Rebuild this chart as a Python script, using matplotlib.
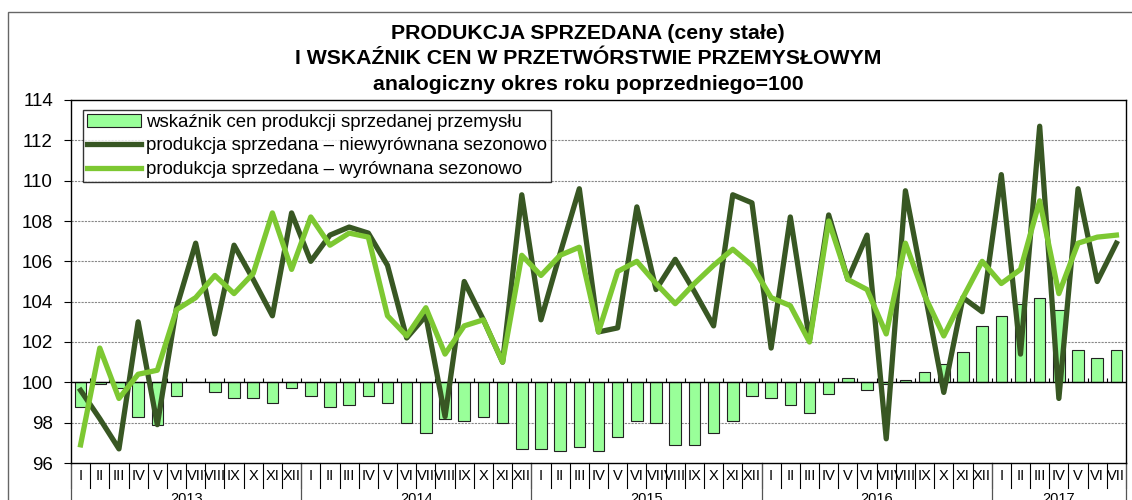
import numpy as np
import matplotlib
matplotlib.use('Agg')
import matplotlib.pyplot as plt
from matplotlib.patches import Rectangle

plt.rcParams['font.family'] = ['Liberation Sans', 'DejaVu Sans']

# ── Data (Jan 2013 – Jul 2017) ───────────────────────────────
months = ['I', 'II', 'III', 'IV', 'V', 'VI', 'VII', 'VIII', 'IX', 'X', 'XI', 'XII']
years  = ['2013', '2014', '2015', '2016', '2017']

price_index = [
    98.8, 99.9, 99.7, 98.3, 97.9, 99.3, 100.0, 99.5, 99.2, 99.2, 99.0, 99.7,   # 2013
    99.3, 98.8, 98.9, 99.3, 99.0, 98.0, 97.5, 98.2, 98.1, 98.3, 98.0, 96.7,    # 2014
    96.7, 96.6, 96.8, 96.6, 97.3, 98.1, 98.0, 96.9, 96.9, 97.5, 98.1, 99.3,    # 2015
    99.2, 98.9, 98.5, 99.4, 100.2, 99.6, 99.9, 100.1, 100.5, 100.9, 101.5, 102.8,  # 2016
    103.3, 103.9, 104.2, 103.6, 101.6, 101.2, 101.6,                           # 2017
]
prod_raw = [
    99.6, 98.2, 96.7, 103.0, 97.9, 103.7, 106.9, 102.4, 106.8, 105.1, 103.3, 108.4,
    106.0, 107.3, 107.7, 107.4, 105.8, 102.2, 103.3, 98.3, 105.0, 103.1, 101.0, 109.3,
    103.1, 106.4, 109.6, 102.5, 102.7, 108.7, 104.6, 106.1, 104.5, 102.8, 109.3, 108.9,
    101.7, 108.2, 102.1, 108.3, 105.1, 107.3, 97.2, 109.5, 104.5, 99.5, 104.2, 103.5,
    110.3, 101.4, 112.7, 99.2, 109.6, 105.0, 106.9,
]
prod_sa = [
    96.9, 101.7, 99.2, 100.4, 100.6, 103.6, 104.2, 105.3, 104.4, 105.4, 108.4, 105.6,
    108.2, 106.8, 107.4, 107.2, 103.3, 102.3, 103.7, 101.4, 102.8, 103.1, 101.0, 106.3,
    105.3, 106.3, 106.7, 102.5, 105.5, 106.0, 104.9, 103.9, 104.9, 105.8, 106.6, 105.8,
    104.2, 103.8, 102.0, 108.0, 105.1, 104.6, 102.4, 106.9, 104.3, 102.3, 104.2, 106.0,
    104.9, 105.6, 109.0, 104.4, 106.9, 107.2, 107.3,
]

labels = ['wskaźnik cen produkcji sprzedanej przemysłu',
          'produkcja sprzedana – niewyrównana sezonowo',
          'produkcja sprzedana – wyrównana sezonowo']

C_BAR  = '#99FF99'
C_DARK = '#385723'
C_LITE = '#7DC832'

W, H = 1132, 500
fig = plt.figure(figsize=(W / 100, H / 100), dpi=100)
ax = fig.add_axes([71 / W, (H - 463) / H, (1126 - 71) / W, (463 - 100) / H])

x = np.arange(len(price_index))
pi = np.array(price_index)

# ── Grid & baseline ──────────────────────────────────────────
ax.set_ylim(96, 114)
ax.set_xlim(-0.5, len(x) - 0.5)
for yv in np.arange(98, 114, 2):
    if yv != 100:
        ax.axhline(yv, color='#888888', lw=0.8, ls=(0, (2, 1)), zorder=0)

bars = ax.bar(x, pi - 100, bottom=100, width=0.6, color=C_BAR,
              edgecolor='#222222', linewidth=0.8, zorder=2)
ax.axhline(100, color='black', lw=1.0, zorder=3)
bounds = np.arange(-0.5, len(x), 1.0)
ax.vlines(bounds[1:-1], 100, 100.2, color='black', lw=0.8, zorder=3)

l1, = ax.plot(x, prod_raw, color=C_DARK, lw=3.8, zorder=4)
l2, = ax.plot(x, prod_sa, color=C_LITE, lw=3.8, zorder=5)

# ── Axes styling ─────────────────────────────────────────────
for s in ax.spines.values():
    s.set_color('black')
    s.set_linewidth(1.0)
ax.set_yticks(np.arange(96, 115, 2))
ax.tick_params(axis='y', labelsize=13.5, length=5, pad=8, direction='out')
ax.set_xticks([])

# month labels & separators
tr = ax.get_xaxis_transform()
for i in x:
    ax.text(i, -0.035, months[i % 12], transform=tr, ha='center', va='center', fontsize=10.5)
for b in bounds:
    ax.plot([b, b], [0, -0.07], transform=tr, color='black', lw=0.8, clip_on=False)

year_starts = list(range(0, len(x), 12)) + [len(x)]
for k, yr in enumerate(years):
    left = year_starts[k] - 0.5
    right = year_starts[k + 1] - 0.5
    ax.plot([left, left], [0, -0.11], transform=tr, color='#555555', lw=0.9, clip_on=False)
    ax.text((left + right) / 2, -0.1, yr, transform=tr, ha='center', va='center', fontsize=10.5)
ax.plot([len(x) - 0.5] * 2, [0, -0.11], transform=tr, color='#555555', lw=0.9, clip_on=False)

# ── Legend ───────────────────────────────────────────────────
leg = ax.legend([bars, l1, l2], labels, loc='upper left',
                bbox_to_anchor=(83 / W, 1 - 110 / H),
                bbox_transform=fig.transFigure, fontsize=13.4, frameon=True,
                fancybox=False, edgecolor='black', borderaxespad=0, borderpad=0.2,
                handlelength=2.9, handletextpad=0.3, labelspacing=0.36)
leg.get_frame().set_linewidth(1.0)

# ── Title ────────────────────────────────────────────────────
title_lines = ['PRODUKCJA SPRZEDANA (ceny stałe)',
               'I WSKAŹNIK CEN W PRZETWÓRSTWIE PRZEMYSŁOWYM',
               'analogiczny okres roku poprzedniego=100']
for k, t in enumerate(title_lines):
    fig.text(588 / W, 1 - (39 + 25.5 * k) / H, t, ha='center', va='baseline',
             fontsize=15.3, fontweight='bold')

# outer frame
fig.patches.append(Rectangle((8 / W, -0.05), 1.1, 1 - 12 / H + 0.05,
                             transform=fig.transFigure, fill=False,
                             edgecolor='#666666', lw=1.0))

fig.savefig('out.png', dpi=100)
